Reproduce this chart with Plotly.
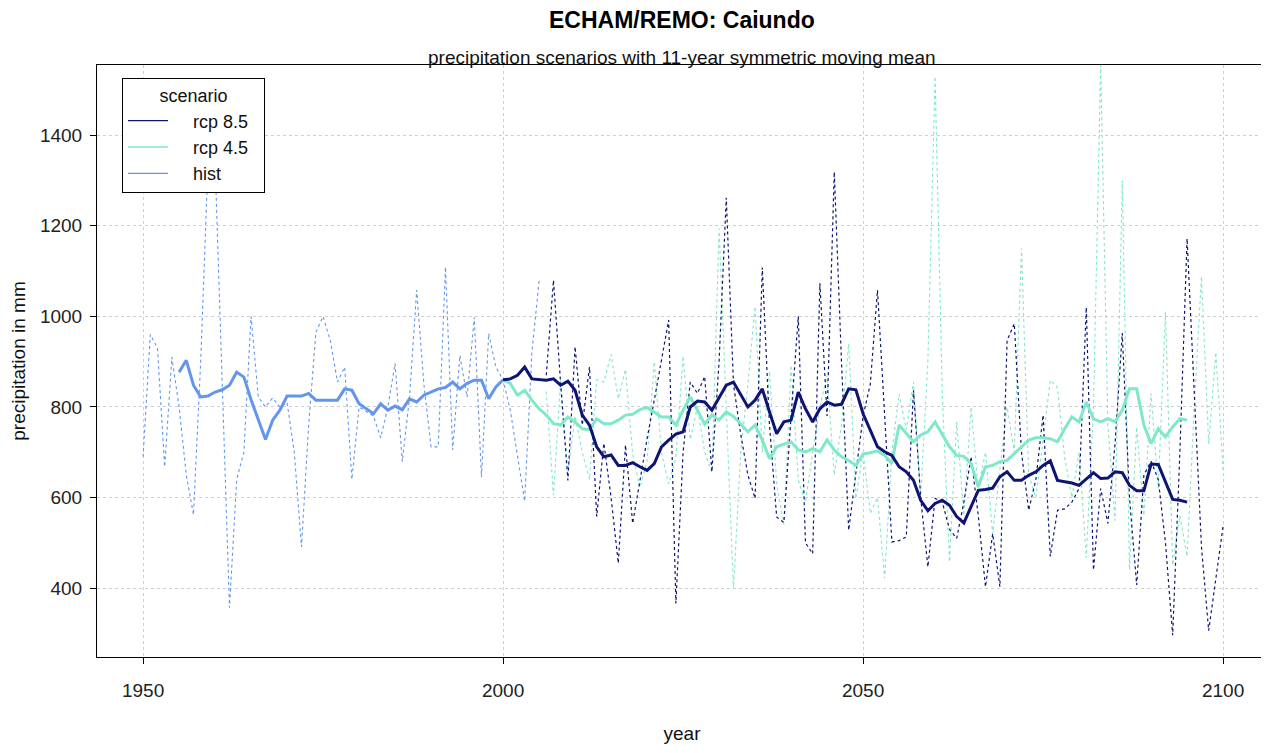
import plotly.graph_objects as go

# ---------------- data ----------------
hist_years = list(range(1950, 2006))
hist_vals = [690, 960, 930, 668, 910, 800, 650, 562, 900, 1330,
             1340, 850, 357, 640, 700, 1000, 822, 800, 820, 800,
             810, 700, 491, 760, 965, 1000, 947, 855, 888, 640,
             800, 790, 780, 732, 800, 896, 679, 820, 1058, 850,
             712, 712, 1109, 705, 914, 822, 998, 645, 962, 888,
             860, 793, 690, 592, 920, 1078]

rcp_years = list(range(2006, 2101))
rcp85_vals = [870, 1080, 850, 638,
              933, 760, 888, 558, 720, 600, 455, 716, 543, 640,
              730, 815, 900, 992, 366, 700, 855, 830, 867, 657,
              900, 1262, 850, 740, 650, 598, 1108, 760, 557, 545,
              780, 1000, 500, 476, 1073, 780, 1319, 900, 528, 650,
              780, 850, 1058, 780, 502, 505, 513, 837, 600, 447,
              598, 590, 530, 510, 590, 690, 560, 403, 520, 403,
              947, 984, 700, 572, 640, 782, 470, 572, 575, 590,
              620, 1020, 440, 620, 543, 720, 963, 600, 407, 650,
              680, 640, 500, 296, 700, 1172, 830, 491, 306, 420,
              537]
rcp45_vals = [834, 605, 860, 655,
              780, 700, 640, 860, 855, 916, 818, 883, 696, 622,
              679, 900, 700, 630, 688, 912, 728, 800, 700, 655,
              1194, 800, 398, 700, 850, 1022, 700, 879, 630, 541,
              892, 639, 590, 700, 800, 870, 650, 760, 940, 598,
              700, 565, 600, 422, 700, 829, 750, 855, 600, 900,
              1530, 830, 458, 767, 560, 800, 620, 700, 520, 663,
              800, 700, 1150, 650, 600, 728, 859, 843, 688, 600,
              700, 467, 800, 1555, 760, 549, 1300, 440, 756, 560,
              830, 620, 1010, 451, 560, 470, 800, 1088, 719, 921,
              660]

# 11-year symmetric moving means
hist_ma_years = list(range(1955, 2001))
hist_ma = [877, 903, 848, 822, 824, 833, 838, 848, 877, 866,
           816, 771, 728, 771, 793, 824, 824, 824, 830, 815,
           815, 815, 815, 840, 837, 807, 796, 785, 807, 793,
           802, 794, 818, 811, 826, 833, 840, 843, 855, 840,
           852, 859, 859, 818, 844, 860]

rcp_ma_years = list(range(2000, 2096))
rcp85_ma = [860, 862, 870, 888, 862, 861, 859, 862, 848, 857,
            837, 782, 760, 712, 690, 694, 671, 671, 677, 668,
            660, 675, 712, 727, 740, 745, 800, 813, 811, 793,
            822, 848, 855, 828, 800, 815, 840, 789, 741, 767,
            771, 833, 796, 767, 796, 811, 804, 806, 840, 838,
            785, 749, 712, 701, 693, 668, 657, 638, 594, 571,
            587, 594, 583, 558, 544, 580, 616, 618, 621, 646,
            657, 638, 638, 649, 657, 671, 681, 638, 635, 632,
            627, 642, 655, 642, 643, 657, 655, 627, 615, 615,
            674, 673, 635, 596, 594, 590]
rcp45_ma = [860, 852, 826, 837, 815, 796, 782, 763, 760, 778,
            767, 752, 750, 774, 763, 763, 771, 782, 784, 794,
            799, 789, 778, 778, 760, 793, 822, 793, 762, 782,
            771, 789, 779, 763, 745, 760, 727, 686, 712, 718,
            723, 705, 701, 708, 701, 727, 705, 690, 682, 671,
            696, 699, 703, 693, 675, 760, 741, 723, 738, 745,
            767, 741, 712, 693, 691, 675, 624, 668, 671, 679,
            682, 697, 712, 727, 732, 732, 730, 723, 752, 778,
            767, 811, 774, 767, 774, 767, 793, 840, 840, 760,
            719, 752, 734, 756, 774, 771]

scenarios = ["rcp 8.5", "rcp 4.5", "hist"]
x_ticks = [1950, 2000, 2050, 2100]
y_ticks = [400, 600, 800, 1000, 1200, 1400]

C85 = "#0d1473"
C45 = "#7ee8c8"
CH = "#6495ED"

fig = go.Figure()

# annual values (dotted)
fig.add_trace(go.Scatter(x=hist_years, y=hist_vals, mode="lines", showlegend=False,
                         line=dict(color=CH, width=1.1, dash="dot"), hoverinfo="skip"))
fig.add_trace(go.Scatter(x=rcp_years, y=rcp45_vals, mode="lines", showlegend=False,
                         line=dict(color=C45, width=1.1, dash="dot"), hoverinfo="skip"))
fig.add_trace(go.Scatter(x=rcp_years, y=rcp85_vals, mode="lines", showlegend=False,
                         line=dict(color=C85, width=1.2, dash="dot"), hoverinfo="skip"))

# moving means (thick)
fig.add_trace(go.Scatter(x=hist_ma_years, y=hist_ma, mode="lines", showlegend=False,
                         line=dict(color=CH, width=3)))
fig.add_trace(go.Scatter(x=rcp_ma_years, y=rcp45_ma, mode="lines", showlegend=False,
                         line=dict(color=C45, width=3)))
fig.add_trace(go.Scatter(x=rcp_ma_years, y=rcp85_ma, mode="lines", showlegend=False,
                         line=dict(color=C85, width=3)))

# legend entries (padded with non-breaking spaces to match the key's layout)
NB = "\u00a0"
for name, col in zip(scenarios, [C85, C45, CH]):
    fig.add_trace(go.Scatter(x=[None], y=[None], mode="lines",
                             name=NB * 4 + name + NB * 2,
                             line=dict(color=col, width=1.3)))

axis_common = dict(
    showline=True, linecolor="black", linewidth=1, mirror=True,
    ticks="outside", ticklen=6, tickcolor="black", tickwidth=1,
    showgrid=True, gridcolor="#cfcfcf", griddash="dot", gridwidth=1,
    zeroline=False, tickfont=dict(size=19, color="#222"),
)

# page body has an 8px margin: figure is offset by 8px, so size/margins compensate
fig.update_layout(
    width=1261, height=745,
    margin=dict(l=89, r=2, t=57, b=96),
    paper_bgcolor="white", plot_bgcolor="white",
    font=dict(family="Liberation Sans, Arial, sans-serif", color="#111"),
    xaxis=dict(range=[1943.6, 2106.1], tickvals=x_ticks, ticklabelstandoff=10,
               title=dict(text="year", font=dict(size=19), standoff=26),
               **axis_common),
    yaxis=dict(range=[248, 1555], tickvals=y_ticks, ticklabelstandoff=4,
               title=dict(text="precipitation in mm", font=dict(size=19), standoff=10),
               **axis_common),
    legend=dict(x=0.0214, y=0.978, xanchor="left", yanchor="top",
                bgcolor="white", bordercolor="black", borderwidth=1,
                font=dict(size=18, color="#111"),
                title=dict(text="scenario", side="top center", font=dict(size=18)),
                traceorder="normal", itemwidth=40, tracegroupgap=0),
    annotations=[
        dict(text="<b>ECHAM/REMO: Caiundo</b>", x=0.5, y=1.076, xref="paper", yref="paper",
             xanchor="center", yanchor="middle", showarrow=False,
             font=dict(size=23, color="black")),
        dict(text="precipitation scenarios with 11-year symmetric moving mean", x=0.5, y=1.0135,
             xref="paper", yref="paper", xanchor="center", yanchor="middle", showarrow=False,
             font=dict(size=19, color="#111")),
    ],
)

fig.write_html("out.html")
